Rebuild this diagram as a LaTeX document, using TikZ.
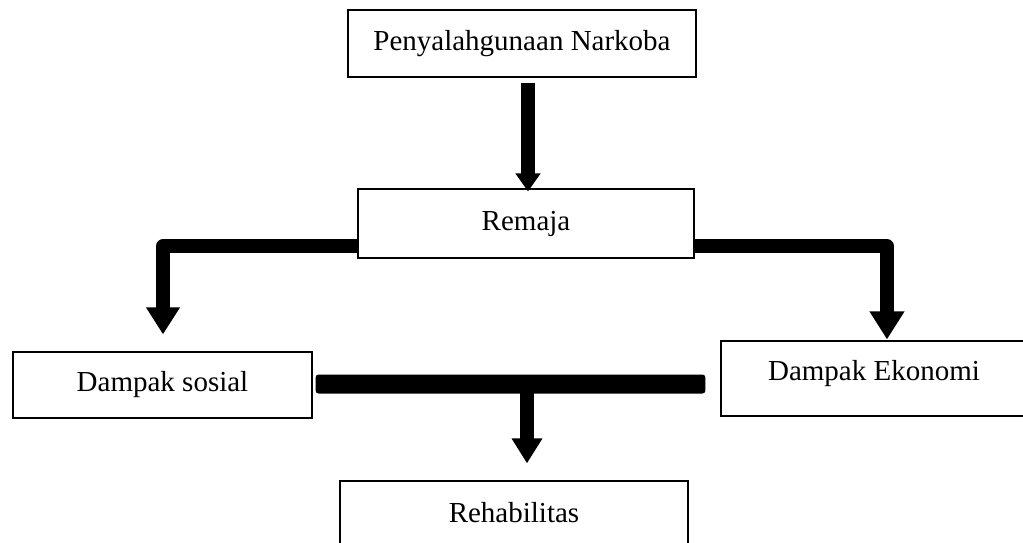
\documentclass[tikz,border=0pt]{standalone}
\usepackage{fontspec}
\setmainfont{Liberation Serif}
\usetikzlibrary{arrows.meta,calc}
\begin{document}
\begin{tikzpicture}[x=1pt,y=-1pt,
  box/.style={draw=black,line width=1.1pt,rectangle,inner sep=0pt,
    font=\fontsize{29}{34}\selectfont},
  conn/.style={line width=13.5pt,line join=round,draw=black}]
\useasboundingbox (0,0) rectangle (1023,542);
\clip (0,0) rectangle (1023,542);
\node[box,minimum width=348pt,minimum height=67pt] (p) at (522,43.5) {Penyalahgunaan Narkoba};
\node[box,minimum width=336pt,minimum height=69pt] (r) at (526,223.5) {Remaja};
\node[box,minimum width=299pt,minimum height=66pt] (s) at (162.5,385) {Dampak sosial};
\node[box,minimum width=306pt,minimum height=75pt,text depth=16pt] (e) at (874,378.5) {Dampak Ekonomi};
\node[box,minimum width=348pt,minimum height=64pt] (h) at (514,513) {Rehabilitas};
% arrow 1
\draw[conn,-{Triangle[width=24pt,length=18pt]}] ($(p.south)+(6,5)$) -- ($(r.north)+(2,3)$);
% left elbow
\coordinate (lend) at ($(s.north)+(0.5,-17)$);
\draw[conn,-{Triangle[width=32pt,length=27pt]}] ($(r.west)+(0,22.5)$) -| (lend);
% right elbow
\coordinate (rend) at ($(e.north)+(13,-1)$);
\draw[conn,-{Triangle[width=33pt,length=28pt]}] ($(r.east)+(0,22.5)$) -| (rend);
% bottom bar
\coordinate (barL) at ($(s.east)+(3,-1)$);
\coordinate (barR) at ($(e.west)+(-15,5.5)$);
\fill[black,rounded corners=3pt] ($(barL)+(0,-9.5)$) rectangle ($(barR)+(0,9.5)$);
\coordinate (hend) at ($(h.north)+(13,-17)$);
\draw[conn,-{Triangle[width=29pt,length=25pt]}] (hend |- barL) -- (hend);
\end{tikzpicture}
\end{document}
